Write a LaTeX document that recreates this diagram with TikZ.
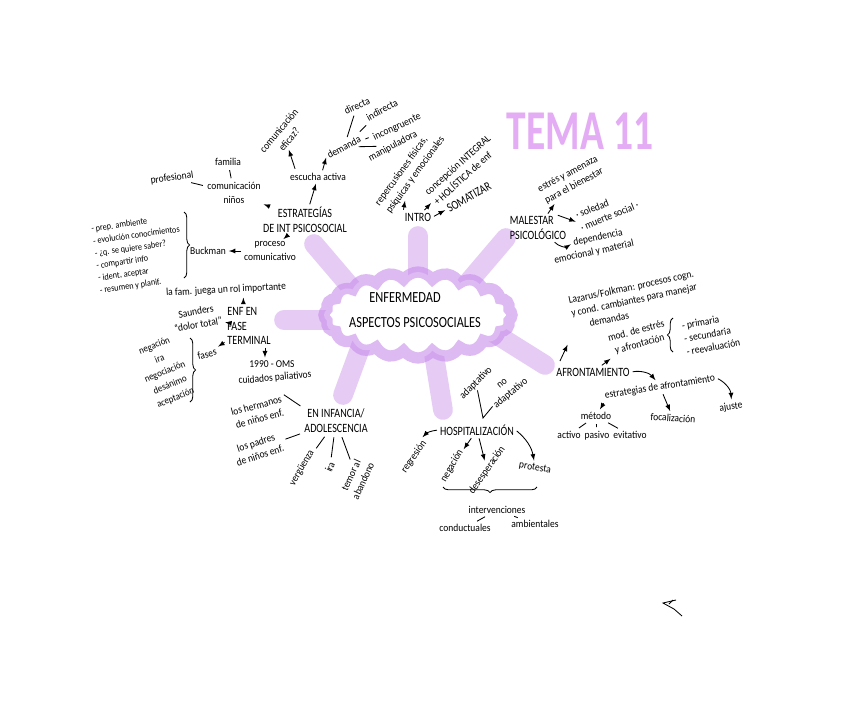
\documentclass[tikz,border=0pt]{standalone}
\usepackage{fontspec}
\setmainfont[FakeStretch=0.9]{Carlito}
\newfontfamily\headfont[FakeStretch=0.8]{Carlito}
\usetikzlibrary{shapes.symbols,decorations.pathreplacing}
\definecolor{violeta}{RGB}{200,140,235}
\definecolor{lila}{RGB}{228,172,244}
\tikzset{
  txt/.style={font=\fontsize{7.5}{9.5}\selectfont, inner sep=1pt, align=center},
  head/.style={font=\headfont\fontsize{9}{10.5}\selectfont, inner sep=1pt, align=center},
  arr/.style={-latex, line width=0.6pt, shorten <=1pt, shorten >=1pt},
  lin/.style={line width=0.6pt, shorten <=2pt, shorten >=2pt},
  rayo/.style={line width=14pt, draw=violeta, draw opacity=0.45, line cap=round},
  llave/.style={decorate, decoration={brace, amplitude=4pt}, line width=0.6pt}
}
\begin{document}
\begin{tikzpicture}[x=0.025cm,y=-0.025cm]
\useasboundingbox[fill=white] (0,0) rectangle (848,717);
\foreach \xa/\ya/\xb/\yb in {372/312/314/244, 418/312/418/236, 443/312/506/238, 400/320/284/320, 365/335/343/395, 430/330/443/410, 470/318/545/365}
  \draw[rayo] (\xa,\ya) -- (\xb,\yb);
\node[cloud, cloud puffs=20, cloud puff arc=110, cloud ignores aspect, minimum width=4.7cm, minimum height=2.15cm, draw=violeta, draw opacity=0.6, line width=8pt, fill=white] (nube) at (418,315) {};
\node[head, font=\headfont\fontsize{11}{13}\selectfont] (enf) at (405,298) {ENFERMEDAD};
\node[head, font=\headfont\fontsize{11}{13}\selectfont] (asp) at (415,323) {ASPECTOS PSICOSOCIALES};
\node[font=\fontsize{40}{40}\selectfont\bfseries, text=lila, xscale=0.78, inner sep=0] (tema) at (580,131) {TEMA 11};

\node[head] (est) at (305,220) {ESTRATEGÍAS\\DE INT PSICOSOCIAL};
\node[txt] (esc) at (318,177) {escucha activa};
\node[txt, rotate=50] (efi) at (284,135) {comunicación\\eficaz?};
\node[txt, rotate=28] (dem) at (344,147) {demanda};
\node[txt, rotate=25] (dir) at (357,106) {directa};
\node[txt, rotate=28] (ind) at (382,110) {indirecta};
\node[txt, rotate=25] (inc) at (397,127) {incongruente};
\node[txt, rotate=28] (man) at (393,146) {manipuladora};
\node[txt] (com) at (234,193) {comunicación\\niños};
\node[txt] (fam) at (228,162) {familia};
\node[txt, rotate=8] (prf) at (172,178) {profesional};
\node[txt] (pco) at (270,251) {proceso\\comunicativo};
\node[txt] (buc) at (208,251) {Buckman};
\node[txt, rotate=8, align=left, font=\fontsize{6.5}{8.8}\selectfont] (lst) at (139,254) {- prep. ambiente\\- evolución conocimientos\\- ¿q. se quiere saber?\\- compartir info\\- ident, aceptar\\- resumen y planif.};
\draw[arr] (est) -- (esc);
\draw[arr] ([xshift=5pt,yshift=1pt]esc.north west) -- (efi);
\draw[arr] ([xshift=3pt]esc.north) -- (dem.west);
\draw[lin] (dem) -- (dir);
\draw[lin] (dem) -- (ind);
\draw[lin] (dem) -- (inc);
\draw[lin] (dem) -- (man);
\draw[arr] (est) -- (com);
\draw[lin] (fam) -- (com);
\draw[lin] (prf) -- (com);
\draw[arr] (est) -- (pco);
\draw[arr] (pco) -- (buc);
\draw[llave] (184,212) -- (184,278);

\node[head, align=left] (ter) at (249,326) {ENF EN\\FASE\\TERMINAL};
\node[txt, rotate=3] (rol) at (226,290) {la fam. juega un rol importante};
\node[txt, rotate=10] (sau) at (197,318) {Saunders\\“dolor total”};
\node[txt, rotate=15] (fas) at (207,354) {fases};
\node[txt, rotate=22, font=\fontsize{7}{10}\selectfont] (flst) at (165,372) {negación\\ira\\negociación\\desánimo\\aceptación};
\node[txt] (oms) at (272,364) {1990 - OMS};
\node[txt, rotate=5] (pal) at (275,378) {cuidados paliativos};
\draw[arr] ([xshift=-4pt]ter.north) -- ([xshift=-4pt]ter.north |- rol.south);
\draw[arr] (ter) -- (sau);
\draw[arr] (ter) -- (fas);
\draw[arr] ([xshift=-5pt]oms.north |- ter.south) -- ([xshift=-5pt]oms.north);
\draw[llave] (190,338) -- (190,402);

\node[head] (inf) at (336,421) {EN INFANCIA/\\ADOLESCENCIA};
\node[txt, rotate=15] (her) at (258,412) {los hermanos\\de niños enf.};
\node[txt, rotate=18] (pad) at (258,449) {los padres\\de niños enf.};
\node[txt, rotate=60] (ver) at (302,468) {vergüenza};
\node[txt, rotate=65] (ira) at (330,467) {ira};
\node[txt, rotate=65] (tem) at (357,478) {temor al\\abandono};
\draw[lin] (her.north east) -- (inf.north west);
\draw[lin] (pad) -- (inf);
\draw[lin] (inf) -- (ver);
\draw[lin] (inf) -- (ira);
\draw[lin] (inf) -- (tem);

\node[head] (hos) at (477,430) {HOSPITALIZACIÓN};
\node[txt, rotate=45] (ada) at (476,383) {adaptativo};
\node[txt, rotate=40] (noa) at (507,389) {no\\adaptativo};
\coordinate (vpt) at (483,418);
\draw[line width=0.6pt] (ada) -- (vpt) -- (noa);
\node[txt, rotate=55] (rgh) at (414,457) {regresión};
\node[txt, rotate=60] (neg) at (452,466) {negación};
\node[txt, rotate=55] (dsp) at (487,470) {desesperación};
\node[txt, rotate=-10] (pro) at (535,468) {protesta};
\draw[arr] (hos.west) to[bend right=20] (rgh);
\draw[arr] (hos) -- (neg);
\draw[arr] (hos) -- (dsp);
\draw[arr] (hos.east) to[bend left=20] (pro);
\draw[llave] (537,487) -- (443,487);
\node[txt] (itv) at (497,510) {intervenciones};
\node[txt] (cnd) at (465,528) {conductuales};
\node[txt] (amb) at (535,524) {ambientales};
\draw[lin] (itv) -- (cnd);
\draw[lin] (itv) -- (amb);

\node[head] (afr) at (593,372) {AFRONTAMIENTO};
\node[txt, rotate=12, align=left] (laz) at (634,300) {Lazarus/Folkman: procesos cogn.\\y cond. cambiantes para manejar\\\hspace{1.5em}demandas};
\node[txt, rotate=15] (mod) at (638,338) {mod. de estrés\\y afrontación};
\node[txt, rotate=10, align=left] (fse) at (711,334) {- primaria\\- secundaria\\- reevaluación};
\node[txt, rotate=9] (eaf) at (660,387) {estrategias de afrontamiento};
\node[txt] (met) at (596,416) {método};
\node[txt] (act) at (569,435) {activo};
\node[txt] (pas) at (597,436) {pasivo};
\node[txt] (evi) at (630,435) {evitativo};
\node[txt, rotate=-4] (foc) at (673,418) {focalización};
\node[txt, rotate=8] (aju) at (731,407) {ajuste};
\draw[arr, shorten <=4pt, shorten >=10pt] ([xshift=2pt]afr.north west) -- (laz.south west);
\draw[arr] (afr) -- (mod);
\draw[llave] (673,352) -- (673,318);
\draw[arr] (afr.east) to[bend left=30] (eaf);
\draw[arr] (eaf.south west) -- (met);
\draw[lin] (met) -- (act);
\draw[lin] (met) -- (pas);
\draw[lin] (met) -- (evi);
\draw[arr] (eaf) -- (foc);
\draw[arr] (eaf.east) to[bend left=30] (aju);

\node[head, align=left] (mal) at (538,228) {MALESTAR\\PSICOLÓGICO};
\node[txt, rotate=28] (ame) at (571,180) {estrés y amenaza\\para el bienestar};
\node[txt, rotate=22, align=left] (sol) at (607,210) {· soledad\\· muerte social ·};
\node[txt, rotate=12] (dep) at (598,238) {dependencia};
\node[txt, rotate=12] (emo) at (594,252) {emocional y material};
\draw[arr] (mal) -- (ame);
\draw[arr] ([xshift=-8pt]mal.north east) -- (sol.west);
\draw[arr] ([xshift=-10pt]mal.south east) to[bend right=40] (dep.west);

\node[head] (int) at (418,217) {INTRO};
\node[head, rotate=30] (som) at (469,197) {SOMATIZAR};
\node[txt, rotate=42, align=left] (hol) at (462,170) {concepción INTEGRAL\\+ HOLÍSTICA de enf};
\node[txt, rotate=54, align=left] (rep) at (410,171) {repercusiones físicas,\\psíquicas y emocionales};
\draw[arr] (int.east) -- (som);
\draw[arr] (int) -- (hol);
\draw[arr] (int.north west) -- (rep);

\draw[line width=0.6pt] (676,600) -- (663,603) -- (674,609) -- (682,616);
\draw[line width=0.6pt] (669,604) -- (673,600);
\end{tikzpicture}
\end{document}
